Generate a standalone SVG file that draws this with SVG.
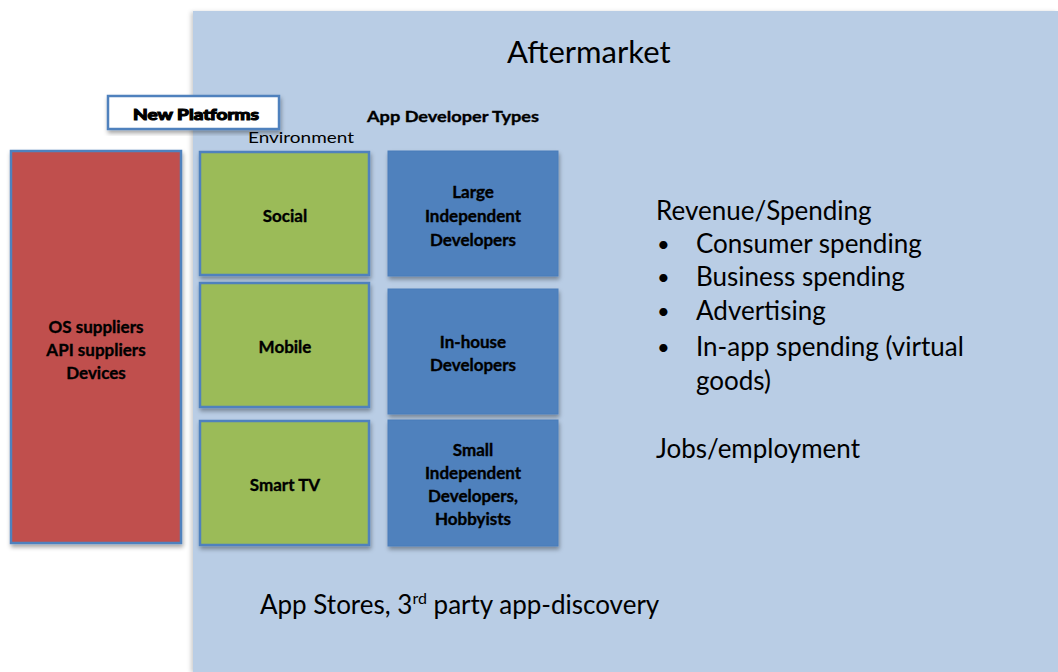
<svg xmlns="http://www.w3.org/2000/svg" width="1058" height="672" viewBox="0 0 1058 672">
<style>
.t{font-family:Lato,"Liberation Sans",sans-serif;fill:#000}
.bb{font-weight:bold;font-size:17px;text-anchor:middle;stroke:#000;stroke-width:0.35}
.big{font-size:26px}
.framed{stroke:#4F81BD;stroke-width:2.5}
.red{fill:#C0504D}
.green{fill:#9BBB59}
.blue{fill:#4F81BD;stroke:#4A7DBA;stroke-width:1}
</style>
<defs>
<filter id="sh" x="-20%" y="-20%" width="140%" height="140%">
<feDropShadow dx="1" dy="3" stdDeviation="2" flood-color="#000" flood-opacity="0.35"/>
</filter>
<filter id="shl" x="-5%" y="-5%" width="110%" height="110%">
<feDropShadow dx="-2" dy="1" stdDeviation="2" flood-color="#000" flood-opacity="0.2"/>
</filter>
</defs>
<rect width="1058" height="672" fill="#FFFFFF"/>

<g id="aftermarket">
<rect x="193" y="11" width="865" height="661" fill="#B9CDE5" filter="url(#shl)"/>
<text class="t" x="507" y="63" font-size="31">Aftermarket</text>
</g>

<g id="new-platforms">
<rect x="108" y="96" width="171" height="33" fill="#FFFFFF" class="framed" filter="url(#sh)"/>
<text class="t" x="133" y="120" font-size="16" font-weight="bold" stroke="#000" stroke-width="1.2" textLength="126" lengthAdjust="spacingAndGlyphs">New Platforms</text>
<text class="t" x="248" y="143" font-size="16" textLength="106" lengthAdjust="spacingAndGlyphs">Environment</text>
</g>

<g id="app-developer-types-label">
<text class="t" x="367" y="122" font-size="16" font-weight="bold" stroke="#000" stroke-width="0.35" textLength="172" lengthAdjust="spacingAndGlyphs">App Developer Types</text>
</g>

<g id="suppliers">
<rect x="11" y="151" width="170" height="392" class="red framed" filter="url(#sh)"/>
<text class="t bb" x="96" y="333">OS suppliers</text>
<text class="t bb" x="96" y="356">API suppliers</text>
<text class="t bb" x="96" y="379">Devices</text>
</g>

<g id="social">
<rect x="200" y="152" width="169" height="123" class="green framed" filter="url(#sh)"/>
<text class="t bb" x="285" y="222">Social</text>
</g>
<g id="mobile">
<rect x="200" y="283" width="169" height="124" class="green framed" filter="url(#sh)"/>
<text class="t bb" x="285" y="353">Mobile</text>
</g>
<g id="smart-tv">
<rect x="200" y="421" width="169" height="124" class="green framed" filter="url(#sh)"/>
<text class="t bb" x="285" y="491">Smart TV</text>
</g>

<g id="large-independent">
<rect x="388" y="151" width="170" height="125" class="blue" filter="url(#sh)"/>
<text class="t bb" x="473" y="198">Large</text>
<text class="t bb" x="473" y="222">Independent</text>
<text class="t bb" x="473" y="246">Developers</text>
</g>
<g id="in-house">
<rect x="388" y="289" width="170" height="125" class="blue" filter="url(#sh)"/>
<text class="t bb" x="473" y="348">In-house</text>
<text class="t bb" x="473" y="371">Developers</text>
</g>
<g id="small-independent">
<rect x="388" y="420" width="170" height="126" class="blue" filter="url(#sh)"/>
<text class="t bb" x="473" y="456">Small</text>
<text class="t bb" x="473" y="479">Independent</text>
<text class="t bb" x="473" y="502">Developers,</text>
<text class="t bb" x="473" y="525">Hobbyists</text>
</g>

<g id="revenue">
<text class="t big" x="656" y="220">Revenue/Spending</text>
<text class="t" font-size="22" x="657" y="252">•</text>
<text class="t big" x="696" y="253">Consumer spending</text>
<text class="t" font-size="22" x="657" y="285">•</text>
<text class="t big" x="696" y="286">Business spending</text>
<text class="t" font-size="22" x="657" y="319">•</text>
<text class="t big" x="696" y="320">Advertising</text>
<text class="t" font-size="22" x="657" y="355">•</text>
<text class="t big" x="696" y="356">In-app spending (virtual</text>
<text class="t big" x="696" y="390">goods)</text>
<text class="t big" x="656" y="458">Jobs/employment</text>
</g>

<g id="app-stores">
<text class="t big" x="260" y="614">App Stores, 3<tspan font-size="16" dy="-10">rd</tspan><tspan dy="10"> party app-discovery</tspan></text>
</g>

<g id="connectors"></g>
</svg>
